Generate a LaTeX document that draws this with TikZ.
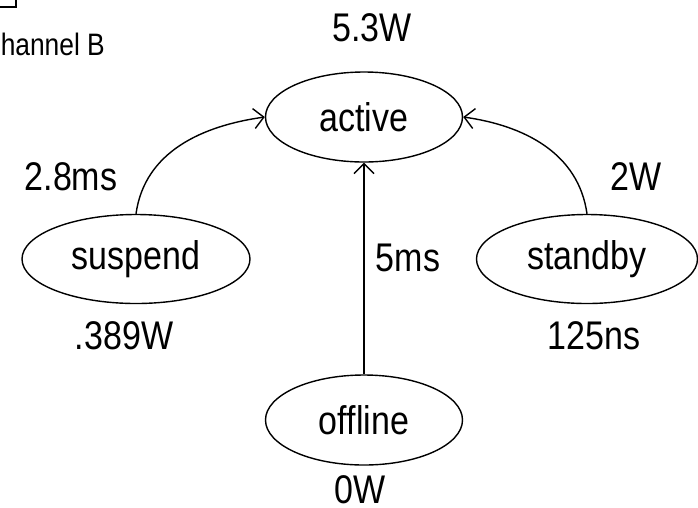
\documentclass[tikz,border=0pt]{standalone}
\usepackage{fontspec}
\setmainfont{Liberation Sans}[FakeStretch=0.85]
\usetikzlibrary{shapes.geometric,arrows.meta}
\begin{document}
\begin{tikzpicture}[x=1pt,y=-1pt,
  state/.style={draw,ellipse,line width=1.4pt,inner sep=0pt,font=\fontsize{40}{44}\selectfont},
  lbl/.style={inner sep=0pt,font=\fontsize{40}{44}\selectfont},
  conn/.style={line width=1.4pt,-{Straight Barb[length=10pt,width=20pt,line width=1.4pt]}}]
\clip (0,0) rectangle (698,507);
\node[state,minimum width=197pt,minimum height=90pt] (active) at (364,117) {active};
\node[state,minimum width=228pt,minimum height=89pt] (suspend) at (136,259) {suspend};
\node[state,minimum width=221pt,minimum height=89pt] (standby) at (587,259) {standby};
\node[state,minimum width=197pt,minimum height=90pt] (offline) at (364,420) {offline};
\node[lbl] (pa) at (372,28) {5.3W};
\node[lbl] (ps) at (124,336) {.389W};
\node[lbl] (ts) at (71,177) {2.8ms};
\node[lbl] (pb) at (636,177) {2W};
\node[lbl] (tb) at (594,336) {125ns};
\node[lbl] (to) at (408,258) {5ms};
\node[lbl] (po) at (360,490) {0W};
\node[inner sep=0pt,anchor=east,font=\fontsize{31}{34}\selectfont] (ch) at (105,44) {Channel B};
\draw[line width=1.4pt] (-30,-30) rectangle (16,7);
\draw[conn] (suspend.north) to[out=82,in=188] (active.west);
\draw[conn] (standby.north) to[out=98,in=-8] (active.east);
\draw[conn] (offline.north) -- (active.south);
\end{tikzpicture}
\end{document}
